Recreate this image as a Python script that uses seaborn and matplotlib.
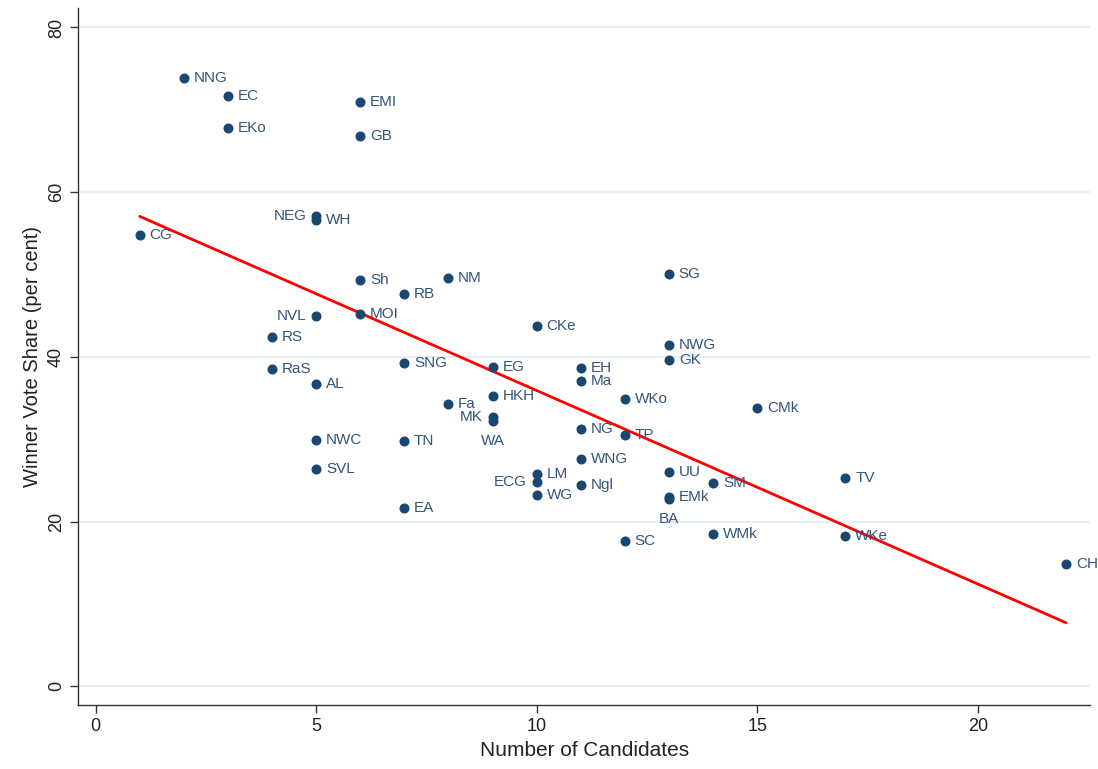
import numpy as np
import pandas as pd
import seaborn as sns
import matplotlib.pyplot as plt

# Data: constituency code, number of candidates, winner vote share
codes = ["NNG", "EC", "EKo", "EMI", "GB", "NEG", "WH", "CG", "Sh", "NM",
         "RB", "SG", "NVL", "MOI", "RS", "CKe", "NWG", "GK", "SNG", "EG",
         "EH", "RaS", "Ma", "AL", "WKo", "HKH", "Fa", "CMk", "MK", "WA",
         "NG", "TP", "NWC", "TN", "WNG", "UU", "LM", "ECG", "SVL", "TV",
         "SM", "Ngl", "WG", "EMk", "BA", "EA", "WMk", "WKe", "SC", "CH"]
candidates = [2, 3, 3, 6, 6, 5, 5, 1, 6, 8,
              7, 13, 5, 6, 4, 10, 13, 13, 7, 9,
              11, 4, 11, 5, 12, 9, 8, 15, 9, 9,
              11, 12, 5, 7, 11, 13, 10, 10, 5, 17,
              14, 11, 10, 13, 13, 7, 14, 17, 12, 22]
share = [73.9, 71.7, 67.8, 71.0, 66.8, 57.1, 56.6, 54.8, 49.3, 49.6,
         47.6, 50.1, 45.0, 45.2, 42.4, 43.7, 41.4, 39.6, 39.2, 38.8,
         38.6, 38.5, 37.1, 36.7, 34.9, 35.2, 34.3, 33.8, 32.7, 32.2,
         31.2, 30.5, 29.9, 29.8, 27.6, 26.0, 25.8, 24.8, 26.4, 25.3,
         24.7, 24.4, 23.2, 23.0, 22.7, 21.7, 18.5, 18.3, 17.6, 14.8]
left_labels = ["NEG", "NVL", "ECG", "MK"]
below_labels = ["WA", "BA"]

df = pd.DataFrame({"code": codes, "n": candidates, "share": share})

sns.set_theme(style="white")
plt.rcParams["font.family"] = ["Liberation Sans", "DejaVu Sans"]

navy = "#1a476f"
lab_col = "#34547a"
fig = plt.figure(figsize=(10.98, 7.69), dpi=100)
ax = fig.add_axes([0.071, 0.083, 0.922, 0.907])

# light horizontal grid at the y ticks
for yv in [0, 20, 40, 60, 80]:
    ax.axhline(yv, color="#e6eff1", lw=1.6, zorder=0)

sns.scatterplot(data=df, x="n", y="share", color=navy, s=52,
                edgecolor=navy, linewidth=0, ax=ax, zorder=3)
sns.regplot(data=df, x="n", y="share", scatter=False, ci=None,
            color="red", line_kws={"lw": 2}, ax=ax)

for c, xv, yv in zip(codes, candidates, share):
    if c in left_labels:
        ax.annotate(c, (xv, yv), xytext=(-7, 0), textcoords="offset points",
                    ha="right", va="center", fontsize=11, color=lab_col)
    elif c in below_labels:
        ax.annotate(c, (xv, yv), xytext=(0, -9), textcoords="offset points",
                    ha="center", va="top", fontsize=11, color=lab_col)
    else:
        ax.annotate(c, (xv, yv), xytext=(7, 0), textcoords="offset points",
                    ha="left", va="center", fontsize=11, color=lab_col)

ax.set_xlim(-0.4, 22.55)
ax.set_ylim(-2.3, 82.4)
ax.set_xticks([0, 5, 10, 15, 20])
ax.set_yticks([0, 20, 40, 60, 80])
ax.set_xlabel("Number of Candidates", fontsize=15, color="#222222")
ax.set_ylabel("Winner Vote Share (per cent)", fontsize=14.5, color="#222222")
ax.tick_params(axis="both", direction="out", length=6, width=1,
               color="#333333", labelsize=13, labelcolor="#222222",
               left=True, bottom=True)
plt.setp(ax.get_yticklabels(), rotation=90, va="center")
for side in ["top", "right"]:
    ax.spines[side].set_visible(False)
for side in ["left", "bottom"]:
    ax.spines[side].set_color("#333333")
    ax.spines[side].set_linewidth(1)

fig.savefig("out.png", dpi=100)
